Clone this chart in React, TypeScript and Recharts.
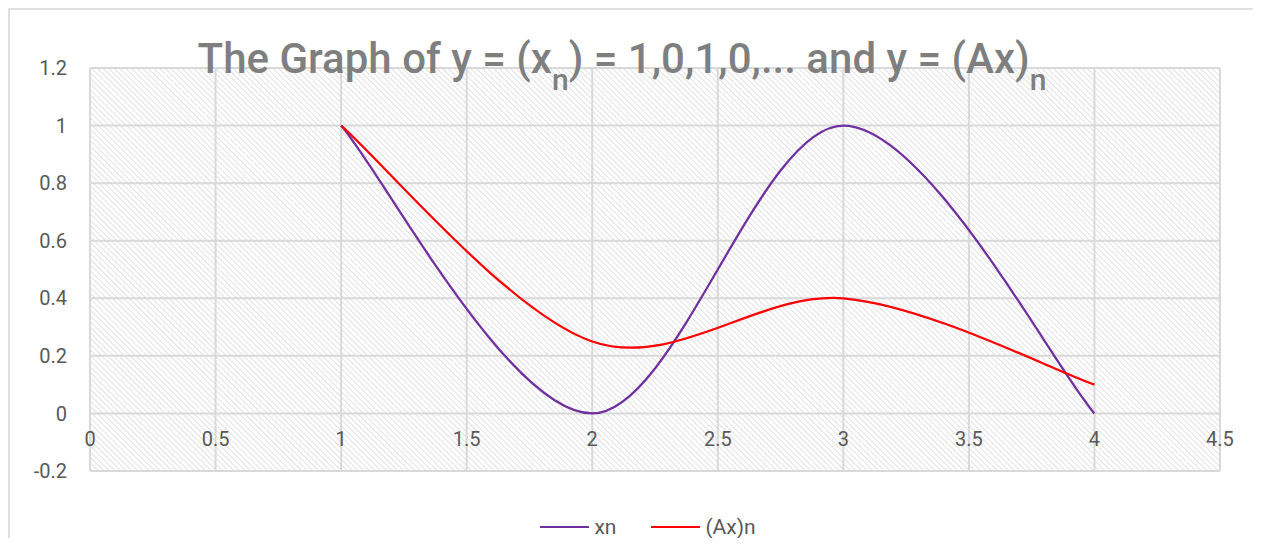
import React from "react";
import {
  LineChart,
  Line,
  CartesianGrid,
  XAxis,
  YAxis,
  Legend,
  ReferenceDot,
  ReferenceLine,
} from "recharts";

// sample index n and the two sequences
const nValues = [1, 2, 3, 4];
const xnValues = [1, 0, 1, 0];
const axValues = [1, 0.25, 0.4, 0.1];

const xTicks = [0, 0.5, 1, 1.5, 2, 2.5, 3, 3.5, 4, 4.5];
const yTicks = [-0.2, 0, 0.2, 0.4, 0.6, 0.8, 1, 1.2];

const data = nValues.map((n, i) => ({ n, xn: xnValues[i], ax: axValues[i] }));

const GRID = "#d9d9d9";
const TEXT = "#595959";

// Excel style smoothed line (Catmull-Rom through every point)
const excelCurve = (context: any) => {
  let pts: number[][] = [];
  return {
    areaStart() {},
    areaEnd() {},
    lineStart() {
      pts = [];
    },
    point(x: number, y: number) {
      pts.push([+x, +y]);
    },
    lineEnd() {
      if (!pts.length) return;
      context.moveTo(pts[0][0], pts[0][1]);
      for (let i = 0; i < pts.length - 1; i++) {
        const p0 = pts[i - 1] || pts[i];
        const p1 = pts[i];
        const p2 = pts[i + 1];
        const p3 = pts[i + 2] || p2;
        context.bezierCurveTo(
          p1[0] + (p2[0] - p0[0]) / 6,
          p1[1] + (p2[1] - p0[1]) / 6,
          p2[0] - (p3[0] - p1[0]) / 6,
          p2[1] - (p3[1] - p1[1]) / 6,
          p2[0],
          p2[1]
        );
      }
    },
  };
};

const legendItems = [
  { label: "xn", color: "#7030a0" },
  { label: "(Ax)n", color: "#ff0000" },
];

const ChartLegend = () => (
  <div
    style={{
      display: "flex",
      justifyContent: "center",
      alignItems: "center",
      gap: 35,
      fontFamily: "Roboto",
      fontSize: 21,
      color: TEXT,
    }}
  >
    {legendItems.map((it) => (
      <div key={it.label} style={{ display: "flex", alignItems: "center" }}>
        <span
          style={{
            display: "inline-block",
            width: 49,
            height: 2.5,
            background: it.color,
            marginRight: 5,
          }}
        />
        {it.label}
      </div>
    ))}
  </div>
);

const App: React.FC = () => {
  return (
    <div
      style={{
        position: "relative",
        width: 1253,
        height: 530,
        boxSizing: "border-box",
        borderTop: "2px solid #e0e0e0",
        borderLeft: "2px solid #e0e0e0",
        background: "#fff",
      }}
    >
      <svg width={0} height={0} style={{ position: "absolute" }}>
        <defs>
          <pattern
            id="hatch"
            width={4}
            height={4}
            patternUnits="userSpaceOnUse"
            patternTransform="rotate(-45)"
          >
            <rect width={4} height={4} fill="#ffffff" />
            <line x1={0} y1={0} x2={0} y2={4} stroke="#dedede" strokeWidth={1.8} />
          </pattern>
        </defs>
      </svg>
      <LineChart
        width={1251}
        height={528}
        data={data}
        margin={{ top: 58, right: 41, bottom: 67, left: 20 }}
        style={{ fontFamily: "Roboto" }}
      >
        <CartesianGrid
          stroke={GRID}
          strokeWidth={2}
          fill="url(#hatch)"
          vertical={false}
          horizontalValues={yTicks}
        />
        <XAxis
          type="number"
          dataKey="n"
          domain={[0, 4.5]}
          ticks={xTicks}
          tick={false}
          axisLine={false}
          tickLine={false}
          height={0}
        />
        <YAxis
          type="number"
          domain={[-0.2, 1.2]}
          ticks={yTicks}
          width={60}
          axisLine={false}
          tickLine={false}
          tickSize={0}
          tickMargin={23}
          tick={{ fill: TEXT, fontSize: 20 }}
        />
        {xTicks.map((t) => (
          <ReferenceLine key={"v" + t} x={t} stroke={GRID} strokeWidth={2} />
        ))}
        {xTicks.map((t) => (
          <ReferenceDot
            key={t}
            x={t}
            y={0}
            r={0}
            fill="none"
            stroke="none"
            label={{
              value: String(t),
              position: "bottom",
              offset: 18,
              fill: TEXT,
              fontSize: 20,
            }}
          />
        ))}
        <Line
          dataKey="xn"
          name="xn"
          type={excelCurve as any}
          stroke="#7030a0"
          strokeWidth={2.25}
          dot={false}
          isAnimationActive={false}
        />
        <Line
          dataKey="ax"
          name="(Ax)n"
          type={excelCurve as any}
          stroke="#ff0000"
          strokeWidth={2.25}
          dot={false}
          isAnimationActive={false}
        />
        <Legend
          verticalAlign="middle"
          align="center"
          content={<ChartLegend />}
          wrapperStyle={{ top: 505, left: 0, width: 1276 }}
        />
      </LineChart>
      <div
        style={{
          position: "absolute",
          left: 0,
          top: 28,
          width: 1224,
          textAlign: "center",
          fontFamily: "Roboto",
          fontWeight: 500,
          fontSize: 42,
          lineHeight: "42px",
          color: "#7f7f7f",
          whiteSpace: "nowrap",
          pointerEvents: "none",
        }}
      >
        The Graph of y = (x
        <span style={{ fontSize: 30, verticalAlign: -17 }}>n</span>) = 1,0,1,0,... and y = (Ax)
        <span style={{ fontSize: 30, verticalAlign: -17 }}>n</span>
      </div>
    </div>
  );
};

export default App;
